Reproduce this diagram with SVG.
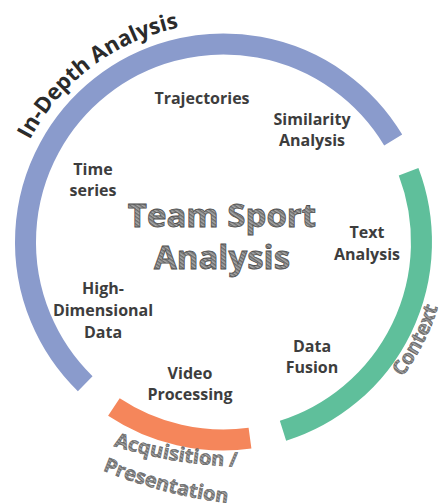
<svg xmlns="http://www.w3.org/2000/svg" width="444" height="503" viewBox="0 0 444 503">
<style>
.ring{fill:none;stroke-width:21;stroke-linecap:butt}
.node{font-family:"Open Sans","Liberation Sans",sans-serif;font-weight:700;font-size:16px;fill:#3d3d3d;text-anchor:middle}
.title{font-family:"Open Sans","Liberation Sans",sans-serif;font-weight:700;font-size:33px;fill:url(#sketch);stroke:#4e4e4e;stroke-width:0.8;text-anchor:middle}
.sk{font-family:"Open Sans","Liberation Sans",sans-serif;font-weight:700;font-size:20px;fill:url(#sketch);stroke:#555;stroke-width:0.5}
.cat{font-family:"Open Sans","Liberation Sans",sans-serif;font-weight:700;font-size:22px;fill:#2b2b2b}
</style>
<defs>
<pattern id="sketch" patternUnits="userSpaceOnUse" width="3" height="3" patternTransform="rotate(35)">
<rect width="3" height="3" fill="#a8a8a8"/>
<line x1="0" y1="0.8" x2="3" y2="0.8" stroke="#555" stroke-width="1.1"/>
</pattern>
<path id="pIn" d="M 4.8 230.5 A 219 219 0 0 1 272.8 28.6"/>
<path id="pCtx" d="M 311 448.2 A 224 224 0 0 0 441.8 191.6"/>
<path id="pAcq" d="M 25 406.7 A 450 450 0 0 0 403.9 439.9"/>
<path id="pPres" d="M 3.2 416.6 A 500 500 0 0 0 419.4 490"/>
</defs>
<rect width="444" height="503" fill="#ffffff"/>
<g id="rings">
<path class="ring" stroke="#8a9bcc" d="M 85.2 383.7 A 198 198 0 1 1 393.2 140"/>
<path class="ring" stroke="#5fbf9b" d="M 408.6 171.7 A 198 198 0 0 1 283 430.8"/>
<path class="ring" stroke="#f5865b" d="M 250 438.2 A 198 198 0 0 1 113.9 406.9"/>
</g>
<g id="cat-indepth"><text class="cat"><textPath href="#pIn" startOffset="50%" text-anchor="middle">In-Depth Analysis</textPath></text></g>
<g id="cat-context"><text class="sk"><textPath href="#pCtx" startOffset="50%" text-anchor="middle">Context</textPath></text></g>
<g id="cat-acq">
<text class="sk"><textPath href="#pAcq" startOffset="160" text-anchor="middle">Acquisition /</textPath></text>
<text class="sk"><textPath href="#pPres" startOffset="178" text-anchor="middle">Presentation</textPath></text>
</g>
<g id="title"><text class="title" x="222" y="227">Team Sport</text><text class="title" x="222" y="269">Analysis</text></g>
<g id="n-trajectories"><text class="node" x="202" y="104">Trajectories</text></g>
<g id="n-similarity"><text class="node" x="312" y="125">Similarity</text><text class="node" x="312" y="146">Analysis</text></g>
<g id="n-timeseries"><text class="node" x="93" y="175">Time</text><text class="node" x="93" y="196">series</text></g>
<g id="n-text"><text class="node" x="367" y="238">Text</text><text class="node" x="367" y="260">Analysis</text></g>
<g id="n-highdim"><text class="node" x="103" y="294">High-</text><text class="node" x="103" y="316">Dimensional</text><text class="node" x="103" y="338">Data</text></g>
<g id="n-fusion"><text class="node" x="312" y="352">Data</text><text class="node" x="312" y="373">Fusion</text></g>
<g id="n-video"><text class="node" x="190" y="379">Video</text><text class="node" x="190" y="400">Processing</text></g>
</svg>
